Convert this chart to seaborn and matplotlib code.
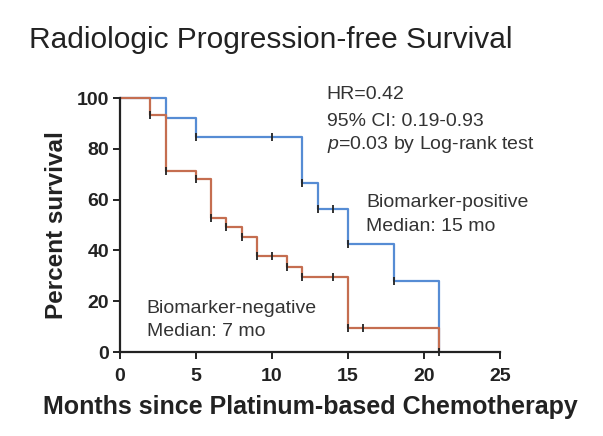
import numpy as np
import pandas as pd
import matplotlib
matplotlib.use("Agg")
import matplotlib.pyplot as plt
import seaborn as sns

# Kaplan-Meier step values
pos_months = [0, 3, 5, 12, 13, 15, 18, 21]
pos_surv = [100, 92.3, 84.6, 66.6, 56.3, 42.4, 28.1, 0]
neg_months = [0, 2, 3, 5, 6, 7, 8, 9, 11, 12, 15, 21]
neg_surv = [100, 93.3, 71.4, 68.0, 52.9, 49.1, 45.4, 37.7, 33.6, 29.5, 9.6, 0]

# tick marks drawn on the curves
pos_tick_months = [5, 10, 12, 13, 14, 15, 18]
pos_tick_surv = [84.6, 84.6, 66.6, 56.3, 56.3, 42.4, 28.1]
neg_tick_months = [2, 3, 5, 6, 7, 8, 9, 10, 11, 12, 14, 15, 16, 21]
neg_tick_surv = [93.3, 71.4, 68.0, 52.9, 49.1, 45.4, 37.7, 37.7, 33.6, 29.5, 29.5, 9.6, 9.6, 0]

x_ticks = [0, 5, 10, 15, 20, 25]
y_ticks = [0, 20, 40, 60, 80, 100]

BLUE = "#568cd4"
RED = "#c56e50"

sns.set_theme(style="ticks")
plt.rcParams["font.family"] = ["Liberation Sans", "DejaVu Sans"]
plt.rcParams["mathtext.fontset"] = "custom"
plt.rcParams["mathtext.it"] = "Liberation Sans:italic"
plt.rcParams["mathtext.rm"] = "Liberation Sans"

curves = pd.concat([
    pd.DataFrame({"months": pos_months, "surv": pos_surv, "group": "Biomarker-positive"}),
    pd.DataFrame({"months": neg_months, "surv": neg_surv, "group": "Biomarker-negative"}),
])
ticks = pd.concat([
    pd.DataFrame({"months": pos_tick_months, "surv": pos_tick_surv}),
    pd.DataFrame({"months": neg_tick_months, "surv": neg_tick_surv}),
])

fig = plt.figure(figsize=(6.03, 4.36), dpi=100)
ax = fig.add_axes([120 / 603, 1 - 352 / 436, 380 / 603, 254 / 436])

sns.lineplot(data=curves, x="months", y="surv", hue="group",
             hue_order=["Biomarker-positive", "Biomarker-negative"],
             palette=[BLUE, RED], estimator=None, drawstyle="steps-post",
             linewidth=1.6, legend=False, ax=ax, clip_on=False)
sns.scatterplot(data=ticks, x="months", y="surv", marker="|", s=28,
                color="#222222", linewidth=1.3, ax=ax, clip_on=False, zorder=5)

ax.set_xlim(0, 25)
ax.set_ylim(0, 100)
ax.set_xticks(x_ticks)
ax.set_yticks(y_ticks)
ax.tick_params(width=1.4, length=5, labelsize=14, color="#222222",
               labelcolor="#222222")
ax.tick_params(axis="x", pad=6.5)
ax.tick_params(axis="y", pad=3)
for lab in ax.get_xticklabels() + ax.get_yticklabels():
    lab.set_fontweight("bold")
for s in ["left", "bottom"]:
    ax.spines[s].set_linewidth(1.6)
    ax.spines[s].set_color("#222222")
sns.despine(ax=ax)

ax.set_xlabel("Months since Platinum-based Chemotherapy", fontsize=18,
              fontweight="bold", color="#222222", labelpad=7)
ax.set_ylabel("Percent survival", fontsize=17.5, fontweight="bold",
              color="#222222", labelpad=6)

fig.text(29 / 603, 1 - 40 / 436, "Radiologic Progression-free Survival",
         fontsize=21.5, va="center", ha="left", color="#222222")

txt = dict(fontsize=14, color="#333333", va="center", ha="left")
ax.text(13.6, 101.2, "HR=0.42", **txt)
ax.text(13.6, 90.7, "95% CI: 0.19-0.93", **txt)
ax.text(13.6, 81.5, "$p$=0.03 by Log-rank test", **txt)
ax.text(16.2, 58.8, "Biomarker-positive", **txt)
ax.text(16.2, 49.3, "Median: 15 mo", **txt)
ax.text(1.76, 17.2, "Biomarker-negative", **txt)
ax.text(1.76, 8.0, "Median: 7 mo", **txt)

fig.savefig("out.png", dpi=100, facecolor="white")
